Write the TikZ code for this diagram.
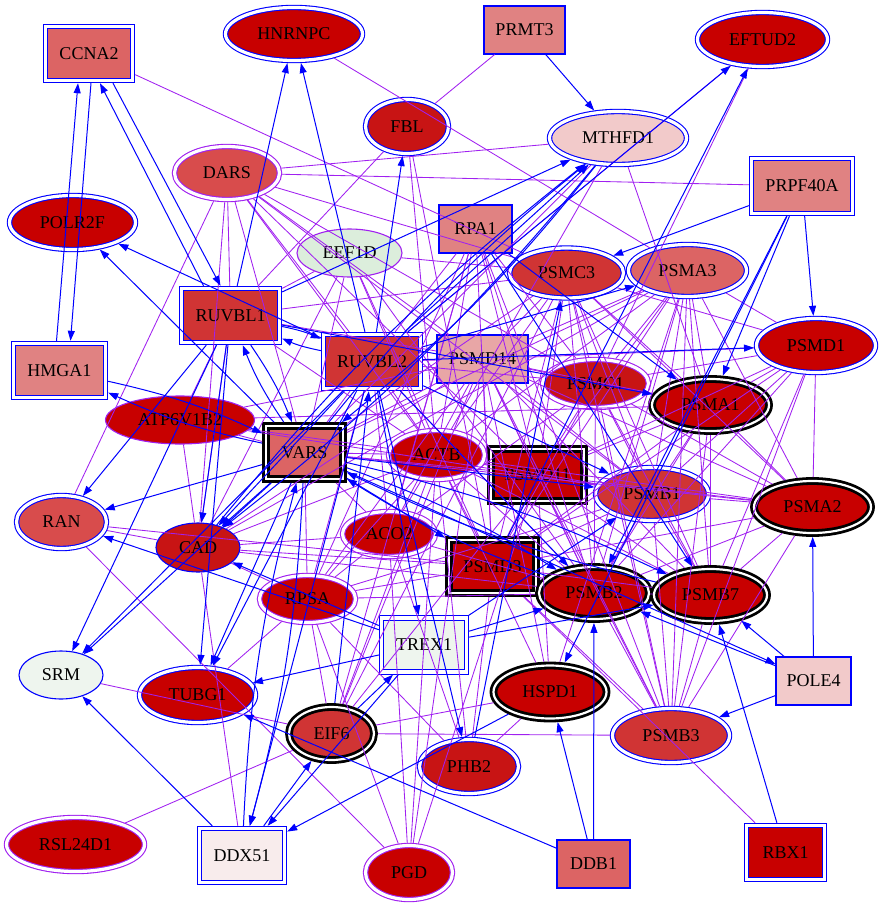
\documentclass[tikz,border=0pt]{standalone}
\usepackage{fontspec}
\setmainfont{Liberation Serif}
\usetikzlibrary{shapes, positioning, arrows.meta}
\definecolor{ppicol}{HTML}{A020F0}
\definecolor{dred}{HTML}{C80000}
\definecolor{redA}{HTML}{C81414}
\definecolor{redB}{HTML}{D03434}
\definecolor{redC}{HTML}{D84C4C}
\definecolor{redD}{HTML}{DC6464}
\definecolor{pinkA}{HTML}{E08282}
\definecolor{pinkB}{HTML}{E8A6A6}
\definecolor{pinkC}{HTML}{F2CACA}
\definecolor{pinkD}{HTML}{F8ECEC}
\definecolor{greenA}{HTML}{DCEEDC}
\definecolor{greenB}{HTML}{EEF5EE}

\begin{document}
\begin{tikzpicture}[x=1pt, y=-1pt,
        gene/.style = {inner sep=0pt, font=\fontsize{18}{18}\selectfont},
        box/.style = {gene, rectangle},
        ell/.style = {gene, ellipse},
        sz/.style 2 args = {minimum width=#1pt, minimum height=#2pt},
        ring1/.style = {draw=blue, line width=1.1pt},
        ring1p/.style = {draw=ppicol, line width=1.1pt},
        ring2/.style = {draw=blue, line width=1.1pt, double=white, double distance=3.2pt, outer sep=2.7pt},
        ring2p/.style = {ring2, draw=ppicol},
        ring3/.style = {draw=black, line width=2.8pt, double=white, double distance=2.2pt, outer sep=3.9pt},
        act/.style = {blue, line width=1pt, -{Triangle[length=10pt, width=7pt]}},
        ppi/.style = {ppicol, line width=0.85pt}]
        \useasboundingbox (0,0) rectangle (883,907);

        % genes
        \node[box, ring2, fill=redD, sz={87}{54}] (CCNA2) at (89,53.5) {CCNA2};
        \node[ell, ring2, fill=dred, sz={137}{53}] (HNRNPC) at (294,34) {HNRNPC};
        \node[box, ring1, fill=pinkA, sz={81}{48}] (PRMT3) at (524.5,30) {PRMT3};
        \node[ell, ring2, fill=dred, sz={130}{54}] (EFTUD2) at (762.5,39.5) {EFTUD2};
        \node[ell, ring2, fill=redA, sz={83}{54}] (FBL) at (407,126.5) {FBL};
        \node[ell, ring2, fill=pinkC, sz={137}{53}] (MTHFD1) at (618,138) {MTHFD1};
        \node[ell, ring2p, fill=redC, sz={105}{53}] (DARS) at (227,173) {DARS};
        \node[box, ring2, fill=pinkA, sz={101}{55}] (PRPF40A) at (802,186) {PRPF40A};
        \node[ell, ring2, fill=dred, sz={126}{54}] (POLR2F) at (72.5,222.5) {POLR2F};
        \node[ell, ring1p, fill=greenA, sz={105}{48}] (EEF1D) at (349.5,253) {EEF1D};
        \node[box, ring1, fill=pinkA, sz={73}{48}] (RPA1) at (475.5,229) {RPA1};
        \node[ell, ring2, fill=redB, sz={114}{50}] (PSMC3) at (566.5,273) {PSMC3};
        \node[ell, ring2, fill=redD, sz={118}{52}] (PSMA3) at (687.5,270.5) {PSMA3};
        \node[box, ring2, fill=redB, sz={98}{54}] (RUVBL1) at (230.5,315.5) {RUVBL1};
        \node[box, ring2, fill=redB, sz={97}{54}] (RUVBL2) at (372,361.5) {RUVBL2};
        \node[box, ring1, fill=pinkB, sz={91}{48}] (PSMD14) at (482.5,359) {PSMD14};
        \node[ell, ring2, fill=dred, sz={119}{54}] (PSMD1) at (816,345.5) {PSMD1};
        \node[box, ring2, fill=pinkA, sz={92}{54}] (HMGA1) at (59.5,370.5) {HMGA1};
        \node[ell, ring2p, fill=redA, sz={106}{48}] (PSMC1) at (595.5,383.5) {PSMC1};
        \node[ell, ring3, fill=dred, sz={117}{52}] (PSMA1) at (710.5,405) {PSMA1};
        \node[ell, ring1p, fill=dred, sz={149}{48}] (ATP6V1B2) at (180,420) {ATP6V1B2};
        \node[box, ring3, fill=redD, sz={77}{53}] (VARS) at (304.5,452.5) {VARS};
        \node[ell, ring2p, fill=dred, sz={96}{49}] (ACTB) at (436.5,455) {ACTB};
        \node[box, ring3, fill=dred, sz={93}{52}] (PSMD11) at (537.5,475) {PSMD11};
        \node[ell, ring2, fill=redB, sz={113}{53}] (PSMB1) at (652,494) {PSMB1};
        \node[ell, ring3, fill=dred, sz={117}{52}] (PSMA2) at (812.5,507) {PSMA2};
        \node[ell, ring2, fill=redC, sz={90}{53}] (RAN) at (61.5,522) {RAN};
        \node[ell, ring1, fill=redA, sz={84}{49}] (CAD) at (198,547.5) {CAD};
        \node[ell, ring2p, fill=dred, sz={93}{45}] (ACO2) at (389,534) {ACO2};
        \node[box, ring3, fill=dred, sz={87}{53}] (PSMD3) at (492.5,566.5) {PSMD3};
        \node[ell, ring2p, fill=dred, sz={96}{47}] (RPSA) at (307.5,599) {RPSA};
        \node[ell, ring3, fill=dred, sz={110}{52}] (PSMB2) at (594,593) {PSMB2};
        \node[ell, ring3, fill=dred, sz={113}{52}] (PSMB7) at (710.5,595) {PSMB7};
        \node[box, ring2, fill=greenB, sz={85}{54}] (TREX1) at (424,645) {TREX1};
        \node[ell, ring1, fill=greenB, sz={84}{48}] (SRM) at (61,675) {SRM};
        \node[ell, ring2, fill=dred, sz={116}{55}] (TUBG1) at (197.5,695) {TUBG1};
        \node[box, ring1, fill=pinkC, sz={75}{48}] (POLE4) at (813.5,681) {POLE4};
        \node[ell, ring3, fill=dred, sz={113}{53}] (HSPD1) at (550,692) {HSPD1};
        \node[ell, ring3, fill=redB, sz={85}{53}] (EIF6) at (331.5,733.5) {EIF6};
        \node[ell, ring2, fill=redB, sz={117}{54}] (PSMB3) at (671,735.5) {PSMB3};
        \node[ell, ring2, fill=redA, sz={99}{54}] (PHB2) at (469,766.5) {PHB2};
        \node[ell, ring2p, fill=dred, sz={138}{54}] (RSL24D1) at (75.5,844.5) {RSL24D1};
        \node[box, ring2, fill=pinkD, sz={85}{54}] (DDX51) at (242,855.5) {DDX51};
        \node[ell, ring2p, fill=dred, sz={87}{54}] (PGD) at (409,872.5) {PGD};
        \node[box, ring1, fill=redD, sz={73}{48}] (DDB1) at (593.5,864) {DDB1};
        \node[box, ring2, fill=dred, sz={78}{54}] (RBX1) at (785.5,852.5) {RBX1};

        % proteasome interactions
        \draw[ppi] (PSMA1) -- (PSMA2);
        \draw[ppi] (PSMA1) -- (PSMA3);
        \draw[ppi] (PSMA1) -- (PSMB1);
        \draw[ppi] (PSMA1) -- (PSMB2);
        \draw[ppi] (PSMA1) -- (PSMB3);
        \draw[ppi] (PSMA1) -- (PSMB7);
        \draw[ppi] (PSMA1) -- (PSMC1);
        \draw[ppi] (PSMA1) -- (PSMC3);
        \draw[ppi] (PSMA1) -- (PSMD1);
        \draw[ppi] (PSMA1) -- (PSMD3);
        \draw[ppi] (PSMA1) -- (PSMD11);
        \draw[ppi] (PSMA1) -- (PSMD14);
        \draw[ppi] (PSMA2) -- (PSMA3);
        \draw[ppi] (PSMA2) -- (PSMB1);
        \draw[ppi] (PSMA2) -- (PSMB2);
        \draw[ppi] (PSMA2) -- (PSMB3);
        \draw[ppi] (PSMA2) -- (PSMB7);
        \draw[ppi] (PSMA2) -- (PSMC1);
        \draw[ppi] (PSMA2) -- (PSMC3);
        \draw[ppi] (PSMA2) -- (PSMD1);
        \draw[ppi] (PSMA2) -- (PSMD3);
        \draw[ppi] (PSMA2) -- (PSMD11);
        \draw[ppi] (PSMA2) -- (PSMD14);
        \draw[ppi] (PSMA3) -- (PSMB1);
        \draw[ppi] (PSMA3) -- (PSMB2);
        \draw[ppi] (PSMA3) -- (PSMB3);
        \draw[ppi] (PSMA3) -- (PSMB7);
        \draw[ppi] (PSMA3) -- (PSMC1);
        \draw[ppi] (PSMA3) -- (PSMC3);
        \draw[ppi] (PSMA3) -- (PSMD1);
        \draw[ppi] (PSMA3) -- (PSMD3);
        \draw[ppi] (PSMA3) -- (PSMD11);
        \draw[ppi] (PSMA3) -- (PSMD14);
        \draw[ppi] (PSMB1) -- (PSMB2);
        \draw[ppi] (PSMB1) -- (PSMB3);
        \draw[ppi] (PSMB1) -- (PSMB7);
        \draw[ppi] (PSMB1) -- (PSMC1);
        \draw[ppi] (PSMB1) -- (PSMC3);
        \draw[ppi] (PSMB1) -- (PSMD1);
        \draw[ppi] (PSMB1) -- (PSMD3);
        \draw[ppi] (PSMB1) -- (PSMD11);
        \draw[ppi] (PSMB1) -- (PSMD14);
        \draw[ppi] (PSMB2) -- (PSMB3);
        \draw[ppi] (PSMB2) -- (PSMB7);
        \draw[ppi] (PSMB2) -- (PSMC1);
        \draw[ppi] (PSMB2) -- (PSMC3);
        \draw[ppi] (PSMB2) -- (PSMD1);
        \draw[ppi] (PSMB2) -- (PSMD3);
        \draw[ppi] (PSMB2) -- (PSMD11);
        \draw[ppi] (PSMB2) -- (PSMD14);
        \draw[ppi] (PSMB3) -- (PSMB7);
        \draw[ppi] (PSMB3) -- (PSMC1);
        \draw[ppi] (PSMB3) -- (PSMC3);
        \draw[ppi] (PSMB3) -- (PSMD1);
        \draw[ppi] (PSMB3) -- (PSMD3);
        \draw[ppi] (PSMB3) -- (PSMD11);
        \draw[ppi] (PSMB3) -- (PSMD14);
        \draw[ppi] (PSMB7) -- (PSMC1);
        \draw[ppi] (PSMB7) -- (PSMC3);
        \draw[ppi] (PSMB7) -- (PSMD1);
        \draw[ppi] (PSMB7) -- (PSMD3);
        \draw[ppi] (PSMB7) -- (PSMD11);
        \draw[ppi] (PSMB7) -- (PSMD14);
        \draw[ppi] (PSMC1) -- (PSMC3);
        \draw[ppi] (PSMC1) -- (PSMD1);
        \draw[ppi] (PSMC1) -- (PSMD3);
        \draw[ppi] (PSMC1) -- (PSMD11);
        \draw[ppi] (PSMC1) -- (PSMD14);
        \draw[ppi] (PSMC3) -- (PSMD1);
        \draw[ppi] (PSMC3) -- (PSMD3);
        \draw[ppi] (PSMC3) -- (PSMD11);
        \draw[ppi] (PSMC3) -- (PSMD14);
        \draw[ppi] (PSMD1) -- (PSMD3);
        \draw[ppi] (PSMD1) -- (PSMD11);
        \draw[ppi] (PSMD1) -- (PSMD14);
        \draw[ppi] (PSMD3) -- (PSMD11);
        \draw[ppi] (PSMD3) -- (PSMD14);
        \draw[ppi] (PSMD11) -- (PSMD14);

        % other interactions
        \draw[ppi] (CCNA2) -- (PSMC3);
        \draw[ppi] (HNRNPC) -- (PSMA3);
        \draw[ppi] (PRMT3) -- (FBL);
        \draw[ppi] (FBL) -- (RUVBL1);
        \draw[ppi] (FBL) -- (ACTB);
        \draw[ppi] (FBL) -- (PSMD3);
        \draw[ppi] (EFTUD2) -- (RUVBL2);
        \draw[ppi] (EFTUD2) -- (PSMC1);
        \draw[ppi] (MTHFD1) -- (PSMA1);
        \draw[ppi] (MTHFD1) -- (VARS);
        \draw[ppi] (MTHFD1) -- (ACTB);
        \draw[ppi] (DARS) -- (MTHFD1);
        \draw[ppi] (DARS) -- (PRPF40A);
        \draw[ppi] (DARS) -- (RUVBL1);
        \draw[ppi] (DARS) -- (RAN);
        \draw[ppi] (DARS) -- (CAD);
        \draw[ppi] (DARS) -- (VARS);
        \draw[ppi] (DARS) -- (RUVBL2);
        \draw[ppi] (DARS) -- (PSMD14);
        \draw[ppi] (DARS) -- (ACTB);
        \draw[ppi] (DARS) -- (PSMC1);
        \draw[ppi] (DARS) -- (PSMB1);
        \draw[ppi] (DARS) -- (PSMC3);
        \draw[ppi] (DARS) -- (PSMD11);
        \draw[ppi] (EEF1D) -- (RUVBL1);
        \draw[ppi] (EEF1D) -- (VARS);
        \draw[ppi] (EEF1D) -- (ACTB);
        \draw[ppi] (EEF1D) -- (PSMD3);
        \draw[ppi] (EEF1D) -- (PSMC3);
        \draw[ppi] (EEF1D) -- (CAD);
        \draw[ppi] (EEF1D) -- (PSMB2);
        \draw[ppi] (RPA1) -- (RUVBL2);
        \draw[ppi] (RPA1) -- (ACTB);
        \draw[ppi] (RPA1) -- (PSMD3);
        \draw[ppi] (RPA1) -- (PSMD11);
        \draw[ppi] (RPA1) -- (PSMB2);
        \draw[ppi] (RPA1) -- (ACO2);
        \draw[ppi] (RPA1) -- (RPSA);
        \draw[ppi] (RPA1) -- (PSMC1);
        \draw[ppi] (RPA1) -- (PSMB3);
        \draw[ppi] (RPA1) -- (EIF6);
        \draw[ppi] (RUVBL1) -- (ACTB);
        \draw[ppi] (RUVBL1) -- (PSMD14);
        \draw[ppi] (RUVBL1) -- (PSMC3);
        \draw[ppi] (RUVBL1) -- (CAD);
        \draw[ppi] (RUVBL1) -- (ATP6V1B2);
        \draw[ppi] (RUVBL2) -- (ACTB);
        \draw[ppi] (RUVBL2) -- (PSMD14);
        \draw[ppi] (RUVBL2) -- (PSMC1);
        \draw[ppi] (RUVBL2) -- (PSMB2);
        \draw[ppi] (RUVBL2) -- (ACO2);
        \draw[ppi] (RUVBL2) -- (RPSA);
        \draw[ppi] (RUVBL2) -- (VARS);
        \draw[ppi] (VARS) -- (ACTB);
        \draw[ppi] (VARS) -- (PSMD14);
        \draw[ppi] (VARS) -- (PSMC3);
        \draw[ppi] (VARS) -- (PSMA3);
        \draw[ppi] (VARS) -- (ACO2);
        \draw[ppi] (VARS) -- (RPSA);
        \draw[ppi] (VARS) -- (PSMD11);
        \draw[ppi] (VARS) -- (PSMA2);
        \draw[ppi] (VARS) -- (ATP6V1B2);
        \draw[ppi] (ATP6V1B2) -- (ACTB);
        \draw[ppi] (ATP6V1B2) -- (PSMD14);
        \draw[ppi] (ATP6V1B2) -- (PSMB1);
        \draw[ppi] (ATP6V1B2) -- (CAD);
        \draw[ppi] (ATP6V1B2) -- (PSMA1);
        \draw[ppi] (ACTB) -- (PSMD11);
        \draw[ppi] (ACTB) -- (PSMD3);
        \draw[ppi] (ACTB) -- (PSMB2);
        \draw[ppi] (ACTB) -- (PSMB7);
        \draw[ppi] (ACTB) -- (PSMB1);
        \draw[ppi] (ACTB) -- (PSMA2);
        \draw[ppi] (ACTB) -- (HSPD1);
        \draw[ppi] (ACTB) -- (PHB2);
        \draw[ppi] (ACTB) -- (EIF6);
        \draw[ppi] (ACTB) -- (PGD);
        \draw[ppi] (ACTB) -- (CAD);
        \draw[ppi] (ACTB) -- (RPSA);
        \draw[ppi] (ACTB) -- (ACO2);
        \draw[ppi] (ACTB) -- (PSMC3);
        \draw[ppi] (ACTB) -- (PSMA3);
        \draw[ppi] (ACO2) -- (PSMD14);
        \draw[ppi] (ACO2) -- (PSMB2);
        \draw[ppi] (ACO2) -- (CAD);
        \draw[ppi] (ACO2) -- (RPSA);
        \draw[ppi] (ACO2) -- (PHB2);
        \draw[ppi] (ACO2) -- (PGD);
        \draw[ppi] (ACO2) -- (PSMC1);
        \draw[ppi] (RPSA) -- (CAD);
        \draw[ppi] (RPSA) -- (PSMD14);
        \draw[ppi] (RPSA) -- (PSMB1);
        \draw[ppi] (RPSA) -- (PSMB2);
        \draw[ppi] (RPSA) -- (PSMD3);
        \draw[ppi] (RPSA) -- (EIF6);
        \draw[ppi] (RPSA) -- (PHB2);
        \draw[ppi] (RPSA) -- (PGD);
        \draw[ppi] (RPSA) -- (TUBG1);
        \draw[ppi] (CAD) -- (PSMD14);
        \draw[ppi] (CAD) -- (PSMA3);
        \draw[ppi] (CAD) -- (PSMB2);
        \draw[ppi] (CAD) -- (PSMD3);
        \draw[ppi] (CAD) -- (RAN);
        \draw[ppi] (RAN) -- (PSMD3);
        \draw[ppi] (RAN) -- (PGD);
        \draw[ppi] (SRM) -- (EIF6);
        \draw[ppi] (RSL24D1) -- (EIF6);
        \draw[ppi] (DDX51) -- (CAD);
        \draw[ppi] (EIF6) -- (PSMB3);
        \draw[ppi] (EIF6) -- (HSPD1);
        \draw[ppi] (EIF6) -- (PSMD14);
        \draw[ppi] (EIF6) -- (PSMC3);
        \draw[ppi] (EIF6) -- (PSMD11);
        \draw[ppi] (HSPD1) -- (PSMD14);
        \draw[ppi] (HSPD1) -- (PHB2);
        \draw[ppi] (HSPD1) -- (PSMA3);
        \draw[ppi] (HSPD1) -- (PSMD11);
        \draw[ppi] (PHB2) -- (PSMD3);
        \draw[ppi] (PGD) -- (PSMD11);
        \draw[ppi] (PGD) -- (PSMD14);
        \draw[ppi] (RBX1) -- (PSMD3);

        % regulation arrows
        \draw[act] ([xshift=-3pt]HMGA1.north) -- ([xshift=-11pt]CCNA2.south);
        \draw[act] ([xshift=2pt]CCNA2.south) -- ([xshift=11pt]HMGA1.north);
        \draw[act] ([xshift=24pt]CCNA2.south) -- ([xshift=-10pt]RUVBL1.north);
        \draw[act] ([xshift=-27pt]RUVBL1.north) -- ([xshift=11pt]CCNA2.south);
        \draw[act] (RUVBL1) -- (HNRNPC);
        \draw[act] (RUVBL2) -- (HNRNPC);
        \draw[act] (RUVBL2) -- (FBL);
        \draw[act] (PRMT3) -- (MTHFD1);
        \draw[act] (RUVBL2) -- (POLR2F);
        \draw[act] (VARS) -- (POLR2F);
        \draw[act] (RUVBL1) to [bend left=6] (VARS);
        \draw[act] (VARS) to [bend left=6] (RUVBL1);
        \draw[act] (HMGA1) to [bend left=6] (VARS);
        \draw[act] (VARS) to [bend left=6] (HMGA1);
        \draw[act] (RUVBL1) -- (RAN);
        \draw[act] (VARS) -- (RAN);
        \draw[act] (TREX1) -- (RAN);
        \draw[act] (TREX1) -- (CAD);
        \draw[act] (RUVBL1) -- (SRM);
        \draw[act] (VARS) -- (SRM);
        \draw[act] (RUVBL2) -- (SRM);
        \draw[act] (DDX51) -- (SRM);
        \draw[act] (RUVBL1) -- (TUBG1);
        \draw[act] (VARS) -- (TUBG1);
        \draw[act] (DDB1) -- (TUBG1);
        \draw[act] (DDB1) -- (HSPD1);
        \draw[act] (DDB1) -- (PSMB2);
        \draw[act] (RBX1) -- (PSMB7);
        \draw[act] (POLE4) -- (PSMA2);
        \draw[act] (POLE4) -- (PSMB3);
        \draw[act] (POLE4) -- (PSMB7);
        \draw[act] (POLE4) -- (PSMB2);
        \draw[act] (VARS) -- (POLE4);
        \draw[act] (TREX1) -- (PSMB2);
        \draw[act] (TREX1) -- (PSMB7);
        \draw[act] (RUVBL1) -- (MTHFD1);
        \draw[act] (RUVBL2) -- (MTHFD1);
        \draw[act] (VARS) to [bend left=6] (MTHFD1);
        \draw[act] (MTHFD1) to [bend left=6] (VARS);
        \draw[act] (CAD) to [bend left=6] (MTHFD1);
        \draw[act] (MTHFD1) to [bend left=6] (CAD);
        \draw[act] (RUVBL2) -- (EFTUD2);
        \draw[act] (PSMD3) -- (EFTUD2);
        \draw[act] (PRPF40A) -- (PSMC3);
        \draw[act] (PRPF40A) -- (PSMD1);
        \draw[act] (PRPF40A) -- (PSMA1);
        \draw[act] (PRPF40A) -- (PSMB2);
        \draw[act] (PRPF40A) -- (HSPD1);
        \draw[act] (RUVBL2) -- (PSMA3);
        \draw[act] (RUVBL2) -- (PSMD1);
        \draw[act] (RPA1) -- (PSMA1);
        \draw[act] (RUVBL1) -- (PSMA1);
        \draw[act] (RUVBL2) -- (PSMB1);
        \draw[act] (TREX1) -- (PSMB1);
        \draw[act] (RPA1) -- (PSMB7);
        \draw[act] (VARS) -- (PSMD3);
        \draw[act] (VARS) to [bend left=6] (PSMB2);
        \draw[act] (PSMB2) to [bend left=6] (VARS);
        \draw[act] (RUVBL2) -- (PSMB2);
        \draw[act] (VARS) to [bend left=6] (PSMB7);
        \draw[act] (PSMB7) to [bend left=6] (VARS);
        \draw[act] (VARS) -- (PSMB1);
        \draw[act] (RUVBL2) -- (TREX1);
        \draw[act] (EIF6) -- (TREX1);
        \draw[act] (DDX51) -- (EIF6);
        \draw[act] (VARS) to [bend left=6] (DDX51);
        \draw[act] (DDX51) to [bend left=6] (VARS);
        \draw[act] (RUVBL2) -- (DDX51);
        \draw[act] (TREX1) -- (DDX51);
        \draw[act] (HSPD1) -- (DDX51);
        \draw[act] (RUVBL2) -- (PHB2);
        \draw[act] (RUVBL2) -- (CAD);
        \draw[act] (VARS) -- (CAD);
        \draw[act] (RUVBL1) -- (CAD);
        \draw[act] (RUVBL2) to [bend left=6] (RUVBL1);
        \draw[act] (RUVBL1) to [bend left=6] (RUVBL2);
        \draw[act] (EIF6) -- (RUVBL2);
        \draw[act] (RUVBL2) -- (TUBG1);
        \draw[act] (TREX1) -- (TUBG1);
        \draw[act] (PHB2) -- (PSMC3);
    \end{tikzpicture}
\end{document}
